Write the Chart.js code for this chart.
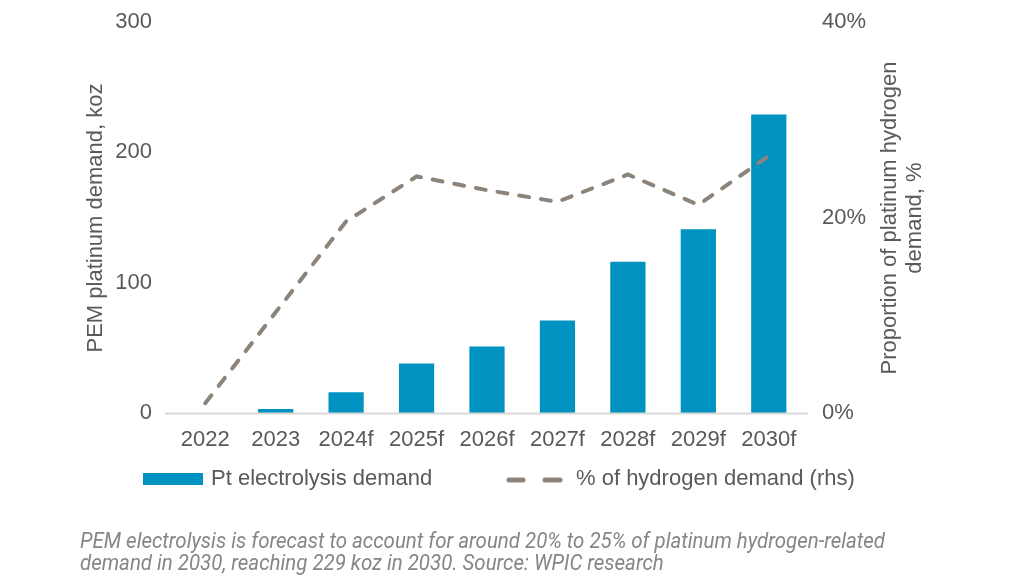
<!DOCTYPE html>
<html>
<head>
<meta charset="utf-8">
<script src="https://cdn.jsdelivr.net/npm/chart.js@4.4.1/dist/chart.umd.min.js"></script>
<style>
  html, body { margin: 0; padding: 0; background: #ffffff; }
  #wrap { position: relative; width: 1022px; height: 575px; overflow: hidden; }
  #c { position: absolute; left: 0; top: 0; }
  #caption {
    position: absolute; left: 80px; top: 530px;
    font-family: Roboto, "DejaVu Sans Condensed", sans-serif;
    font-style: italic; font-size: 22px; line-height: 22px; color: #868686;
    white-space: nowrap;
  }
  #caption span { display: inline-block; transform-origin: 0 0; }
</style>
</head>
<body>
<div id="wrap">
  <canvas id="c" width="1022" height="575"></canvas>
  <div id="caption"><span id="cap1">PEM electrolysis is forecast to account for around 20% to 25% of platinum hydrogen-related</span><br><span id="cap2">demand in 2030, reaching 229 koz in 2030. Source: WPIC research</span></div>
</div>
<script>
const categories = ["2022", "2023", "2024f", "2025f", "2026f", "2027f", "2028f", "2029f", "2030f"];
const ptElectrolysisDemand = [0, 3, 16, 38, 51, 71, 116, 141, 229];
const hydrogenDemandShare = [1.0, 10.3, 19.6, 24.2, 22.8, 21.6, 24.4, 21.3, 26.3];
const leftTicks = [0, 100, 200, 300];
const rightTicks = [0, 20, 40];
const barLabel = "Pt electrolysis demand";
const lineLabel = "% of hydrogen demand (rhs)";
const leftTitle = "PEM platinum demand, koz";
const rightTitleLines = ["Proportion of platinum hydrogen", "demand, %"];

const BAR_COLOR = "#0092C0";
const LINE_COLOR = "#8C837B";
const TEXT_COLOR = "#595959";
const FONT = '"Liberation Sans", Arial, sans-serif';
const FS = 22;

function fitCaption() {
  const s1 = document.getElementById("cap1");
  const s2 = document.getElementById("cap2");
  s1.style.transform = ""; s2.style.transform = "";
  const k = 805 / s1.getBoundingClientRect().width;
  s1.style.transform = "scaleX(" + k + ")";
  s2.style.transform = "scaleX(" + k + ")";
}
fitCaption();
if (document.fonts && document.fonts.ready) document.fonts.ready.then(fitCaption);

const decor = {
  id: "decor",
  afterDraw(chart) {
    const ctx = chart.ctx;
    const ca = chart.chartArea;
    const y0 = chart.scales.y.getPixelForValue(0);
    ctx.save();
    ctx.strokeStyle = "#d9d9d9";
    ctx.lineWidth = 2;
    ctx.beginPath();
    ctx.moveTo(ca.left - 5, y0 + 0.5);
    ctx.lineTo(ca.right + 4, y0 + 0.5);
    ctx.stroke();

    ctx.fillStyle = TEXT_COLOR;
    ctx.font = FS + "px " + FONT;
    ctx.textAlign = "center";
    ctx.textBaseline = "middle";
    const midY = 218;
    ctx.save();
    ctx.translate(96, midY);
    ctx.rotate(-Math.PI / 2);
    ctx.fillText(leftTitle, 0, 0);
    ctx.restore();
    ctx.save();
    ctx.translate(890, midY);
    ctx.rotate(-Math.PI / 2);
    ctx.fillText(rightTitleLines[0], 0, 0);
    ctx.fillText(rightTitleLines[1], 0, 25);
    ctx.restore();

    const ly = 479;
    ctx.textAlign = "left";
    ctx.fillStyle = BAR_COLOR;
    ctx.fillRect(143, 473, 60, 12);
    ctx.fillStyle = TEXT_COLOR;
    ctx.fillText(barLabel, 211, ly);
    ctx.strokeStyle = LINE_COLOR;
    ctx.lineWidth = 5;
    ctx.lineCap = "round";
    ctx.beginPath();
    ctx.moveTo(509, 480); ctx.lineTo(523, 480);
    ctx.moveTo(545, 480); ctx.lineTo(560, 480);
    ctx.stroke();
    ctx.fillText(lineLabel, 576, ly);
    ctx.restore();
  }
};

function noPad(s) { s.paddingTop = 0; s.paddingBottom = 0; }

new Chart(document.getElementById("c"), {
  data: {
    labels: categories,
    datasets: [
      {
        type: "line",
        label: lineLabel,
        data: hydrogenDemandShare,
        yAxisID: "y1",
        borderColor: LINE_COLOR,
        borderWidth: 4,
        borderDash: [10, 12],
        borderCapStyle: "round",
        pointRadius: 0,
        tension: 0,
        order: 0
      },
      {
        type: "bar",
        label: barLabel,
        data: ptElectrolysisDemand,
        yAxisID: "y",
        backgroundColor: BAR_COLOR,
        categoryPercentage: 1,
        barPercentage: 0.5,
        order: 1
      }
    ]
  },
  options: {
    responsive: false,
    animation: false,
    devicePixelRatio: 1,
    layout: { padding: { left: 0, right: 0, top: 22, bottom: 0 } },
    plugins: { legend: { display: false }, tooltip: { enabled: false } },
    scales: {
      x: {
        offset: true,
        grid: { display: false, drawTicks: false },
        border: { display: false },
        ticks: { color: TEXT_COLOR, font: { size: FS, family: FONT }, padding: 14, maxRotation: 0, autoSkip: false },
        afterFit(s) { s.height = 162; }
      },
      y: {
        position: "left",
        min: 0, max: 300,
        afterBuildTicks(s) { s.ticks = leftTicks.map(v => ({ value: v })); },
        grid: { display: false, drawTicks: false },
        border: { display: false },
        ticks: { color: TEXT_COLOR, font: { size: FS, family: FONT }, padding: 18 },
        afterFit(s) { s.width = 170; noPad(s); }
      },
      y1: {
        position: "right",
        min: 0, max: 40,
        afterBuildTicks(s) { s.ticks = rightTicks.map(v => ({ value: v })); },
        grid: { display: false, drawTicks: false },
        border: { display: false },
        ticks: { color: TEXT_COLOR, font: { size: FS, family: FONT }, padding: 18, callback: v => v + "%" },
        afterFit(s) { s.width = 218; noPad(s); }
      }
    }
  },
  plugins: [decor]
});
</script>
</body>
</html>
